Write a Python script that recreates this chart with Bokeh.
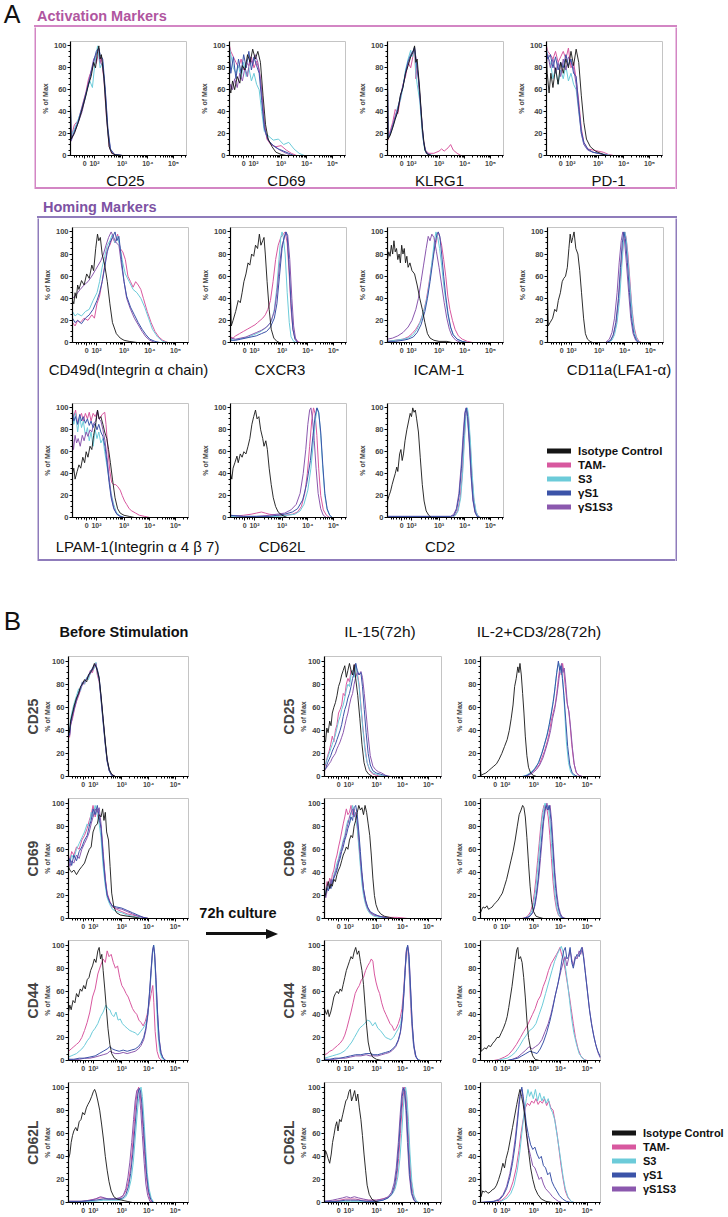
import math
from bokeh.plotting import figure
from bokeh.models import FixedTicker, Div, Spacer, Title, Legend, LegendItem, Range1d
from bokeh.layouts import row, column
from bokeh.embed import file_html
from bokeh.resources import INLINE

SERIES = ["Isotype Control", "TAM-", "S3", "γS1", "γS1S3"]
COLORS = ["#151515", "#d8589f", "#6ccbd9", "#3b53a8", "#8b58ae"]
X_TICKS = [1.55, 1.93, 3.0, 4.0, 5.0]
X_TICK_LABELS = ["0", "10²", "10³", "10⁴", "10⁵"]
Y_TICKS = [0, 20, 40, 60, 80, 100]

# ---------------- Panel A : activation markers ----------------
A_CD25 = {
 "Isotype Control": [(1.0,48),(1.02,15),(1.15,20),(1.3,30),(1.45,42),(1.6,55),(1.7,65),(1.8,72),(1.9,85),(1.97,80),(2.05,95),(2.1,100),(2.15,88),(2.2,92),(2.3,70),(2.4,35),(2.5,8),(2.6,2),(2.75,0.5),(3.0,0),(5.5,0)],
 "TAM-": [(1.0,30),(1.02,16),(1.15,28),(1.3,32),(1.45,45),(1.6,58),(1.7,70),(1.85,80),(1.95,90),(2.0,84),(2.1,95),(2.15,85),(2.2,90),(2.3,68),(2.4,33),(2.5,8),(2.6,2),(2.8,0.5),(3.0,0),(5.5,0)],
 "S3": [(1.0,40),(1.02,18),(1.15,24),(1.3,33),(1.45,43),(1.55,50),(1.65,60),(1.75,68),(1.85,62),(1.95,85),(2.05,100),(2.1,90),(2.15,80),(2.25,85),(2.35,55),(2.45,20),(2.55,5),(2.7,1),(3.0,0),(5.5,0)],
 "γS1": [(1.0,45),(1.02,14),(1.15,22),(1.3,31),(1.45,44),(1.6,57),(1.75,70),(1.9,86),(2.0,95),(2.1,98),(2.15,92),(2.25,88),(2.35,60),(2.45,25),(2.55,6),(2.7,1),(3.0,0),(5.5,0)],
 "γS1S3": [(1.0,42),(1.02,13),(1.15,21),(1.3,30),(1.45,40),(1.6,56),(1.75,72),(1.9,88),(2.0,92),(2.1,97),(2.15,85),(2.25,82),(2.35,58),(2.45,22),(2.55,5),(2.7,1),(3.0,0),(5.5,0)],
}
A_CD69 = {
 "Isotype Control": [(1.0,62),(1.05,57),(1.12,68),(1.2,60),(1.3,72),(1.4,66),(1.5,82),(1.6,78),(1.7,92),(1.8,85),(1.9,97),(2.0,88),(2.1,95),(2.2,85),(2.3,55),(2.4,28),(2.5,15),(2.65,8),(2.8,3),(3.0,1),(3.2,0),(5.5,0)],
 "TAM-": [(1.0,100),(1.05,95),(1.15,90),(1.25,85),(1.35,80),(1.45,88),(1.55,78),(1.65,85),(1.75,82),(1.85,90),(1.95,80),(2.05,86),(2.15,78),(2.25,60),(2.35,30),(2.45,15),(2.6,10),(2.8,8),(3.0,9),(3.2,5),(3.4,2),(3.6,0),(5.5,0)],
 "S3": [(1.0,98),(1.05,92),(1.15,80),(1.25,75),(1.35,82),(1.45,70),(1.55,85),(1.65,72),(1.75,80),(1.85,68),(1.95,75),(2.05,65),(2.15,60),(2.25,40),(2.35,22),(2.5,18),(2.7,14),(2.9,15),(3.1,10),(3.3,12),(3.5,6),(3.7,2),(3.9,0),(5.5,0)],
 "γS1": [(1.0,95),(1.05,75),(1.15,90),(1.25,70),(1.35,88),(1.45,75),(1.55,92),(1.65,80),(1.75,95),(1.85,78),(1.95,90),(2.05,82),(2.15,75),(2.25,50),(2.35,25),(2.5,14),(2.7,9),(2.9,6),(3.1,4),(3.3,2),(3.5,0),(5.5,0)],
 "γS1S3": [(1.0,58),(1.05,65),(1.12,60),(1.2,70),(1.3,62),(1.4,75),(1.5,68),(1.6,80),(1.7,72),(1.8,90),(1.9,82),(2.0,92),(2.1,85),(2.2,70),(2.3,40),(2.4,20),(2.55,12),(2.75,8),(2.95,5),(3.2,2),(3.4,0),(5.5,0)],
}
A_KLRG1 = {
 "Isotype Control": [(1.0,70),(1.02,15),(1.1,18),(1.2,25),(1.3,33),(1.4,40),(1.5,55),(1.6,62),(1.7,75),(1.8,82),(1.9,90),(2.0,95),(2.05,100),(2.1,85),(2.15,88),(2.25,60),(2.35,25),(2.45,5),(2.55,1),(2.7,0),(5.5,0)],
 "TAM-": [(1.0,60),(1.02,14),(1.1,22),(1.2,30),(1.3,42),(1.4,38),(1.5,52),(1.6,65),(1.7,72),(1.8,85),(1.9,80),(2.0,92),(2.05,98),(2.1,70),(2.15,82),(2.25,55),(2.35,22),(2.45,5),(2.6,2),(2.8,2),(3.0,4),(3.1,6),(3.2,4),(3.35,7),(3.45,10),(3.55,5),(3.7,2),(3.85,0),(5.5,0)],
 "S3": [(1.0,65),(1.02,17),(1.1,20),(1.2,27),(1.3,35),(1.4,45),(1.5,50),(1.6,62),(1.7,78),(1.8,88),(1.9,96),(1.95,90),(2.05,97),(2.1,75),(2.15,65),(2.25,50),(2.35,20),(2.45,4),(2.6,1),(2.8,0),(5.5,0)],
 "γS1": [(1.0,72),(1.02,16),(1.1,19),(1.2,26),(1.3,34),(1.4,42),(1.5,54),(1.6,63),(1.7,76),(1.8,86),(1.9,92),(2.0,96),(2.05,99),(2.1,88),(2.2,70),(2.3,40),(2.4,12),(2.5,2),(2.7,0),(5.5,0)],
 "γS1S3": [(1.0,68),(1.02,15),(1.1,20),(1.2,28),(1.3,36),(1.4,43),(1.5,53),(1.6,64),(1.7,74),(1.8,84),(1.9,91),(2.0,94),(2.05,97),(2.1,90),(2.2,72),(2.3,42),(2.4,13),(2.5,3),(2.7,0),(5.5,0)],
}
A_PD1 = {
 "Isotype Control": [(1.0,90),(1.03,75),(1.1,57),(1.17,75),(1.25,62),(1.35,80),(1.45,65),(1.55,85),(1.65,75),(1.75,88),(1.85,80),(1.95,95),(2.05,82),(2.15,97),(2.25,85),(2.35,55),(2.45,30),(2.55,15),(2.7,8),(2.9,4),(3.1,2),(3.3,0),(5.5,0)],
 "TAM-": [(1.0,100),(1.05,95),(1.15,92),(1.25,88),(1.35,95),(1.45,85),(1.55,90),(1.65,95),(1.75,88),(1.85,98),(1.95,80),(2.05,85),(2.15,70),(2.25,50),(2.35,25),(2.45,12),(2.6,6),(2.8,5),(3.0,4),(3.2,3),(3.4,1),(3.6,0),(5.5,0)],
 "S3": [(1.0,98),(1.05,90),(1.15,85),(1.25,70),(1.35,80),(1.45,65),(1.55,78),(1.65,70),(1.75,82),(1.85,68),(1.95,75),(2.05,65),(2.15,60),(2.25,40),(2.35,20),(2.45,10),(2.6,5),(2.8,3),(3.0,2),(3.3,1),(3.5,0),(5.5,0)],
 "γS1": [(1.0,95),(1.05,88),(1.15,92),(1.25,80),(1.35,90),(1.45,78),(1.55,85),(1.65,80),(1.75,92),(1.85,82),(1.95,88),(2.05,75),(2.15,72),(2.25,45),(2.35,22),(2.45,12),(2.6,6),(2.8,3),(3.0,2),(3.2,1),(3.4,0),(5.5,0)],
 "γS1S3": [(1.0,85),(1.05,92),(1.15,80),(1.25,88),(1.35,75),(1.45,85),(1.55,72),(1.65,88),(1.75,78),(1.85,90),(1.95,85),(2.05,80),(2.15,65),(2.25,42),(2.35,20),(2.45,10),(2.6,5),(2.8,3),(3.0,2),(3.2,1),(3.4,0),(5.5,0)],
}

# ---------------- Panel A : homing markers ----------------
A_CD49d = {
 "Isotype Control": [(1.0,38),(1.05,35),(1.1,45),(1.15,40),(1.2,52),(1.25,48),(1.35,56),(1.45,52),(1.55,62),(1.65,58),(1.75,70),(1.82,65),(1.9,85),(1.97,98),(2.02,92),(2.08,95),(2.15,80),(2.25,70),(2.35,55),(2.45,35),(2.55,18),(2.7,8),(2.85,4),(3.0,2),(3.2,1),(3.5,0),(5.5,0)],
 "TAM-": [(1.0,18),(1.1,15),(1.2,20),(1.3,18),(1.45,22),(1.6,20),(1.75,25),(1.85,22),(1.95,35),(2.05,42),(2.15,55),(2.25,70),(2.35,85),(2.45,88),(2.55,95),(2.65,90),(2.75,98),(2.85,85),(2.95,82),(3.05,75),(3.15,60),(3.25,55),(3.35,50),(3.45,55),(3.55,52),(3.65,48),(3.75,40),(3.9,28),(4.05,18),(4.2,10),(4.35,5),(4.5,2),(4.7,0),(5.5,0)],
 "S3": [(1.0,28),(1.1,24),(1.2,26),(1.35,24),(1.5,28),(1.65,30),(1.8,38),(1.95,45),(2.05,55),(2.15,68),(2.25,78),(2.35,88),(2.45,92),(2.55,98),(2.65,90),(2.75,96),(2.85,85),(2.95,72),(3.05,62),(3.2,55),(3.35,48),(3.5,45),(3.65,40),(3.8,32),(3.95,22),(4.1,12),(4.3,5),(4.5,1),(4.7,0),(5.5,0)],
 "γS1": [(1.0,22),(1.1,18),(1.2,20),(1.35,17),(1.5,22),(1.65,25),(1.8,30),(1.95,38),(2.05,45),(2.15,55),(2.25,68),(2.35,82),(2.45,90),(2.55,95),(2.65,100),(2.72,92),(2.8,96),(2.9,75),(3.0,55),(3.1,42),(3.25,32),(3.4,25),(3.55,18),(3.7,12),(3.85,7),(4.0,3),(4.2,1),(4.4,0),(5.5,0)],
 "γS1S3": [(1.0,40),(1.1,42),(1.2,45),(1.3,48),(1.45,52),(1.6,55),(1.75,60),(1.9,66),(2.0,70),(2.1,74),(2.2,80),(2.3,88),(2.4,95),(2.5,100),(2.6,95),(2.7,90),(2.8,88),(2.9,70),(3.0,55),(3.1,40),(3.25,30),(3.4,22),(3.55,16),(3.7,10),(3.85,5),(4.0,2),(4.2,0),(5.5,0)],
}
A_CXCR3 = {
 "Isotype Control": [(1.0,40),(1.03,15),(1.1,20),(1.2,28),(1.3,38),(1.38,36),(1.45,45),(1.52,55),(1.6,62),(1.68,72),(1.75,70),(1.82,80),(1.9,78),(1.97,88),(2.05,85),(2.12,98),(2.18,88),(2.25,92),(2.3,95),(2.35,80),(2.42,55),(2.5,30),(2.58,12),(2.68,4),(2.8,1),(2.9,0),(5.5,0)],
 "TAM-": [(1.0,5),(1.1,4),(1.2,6),(1.35,8),(1.5,10),(1.65,12),(1.8,14),(1.95,16),(2.05,18),(2.15,20),(2.25,22),(2.35,25),(2.45,30),(2.55,38),(2.65,55),(2.75,75),(2.85,88),(2.95,95),(3.05,98),(3.12,100),(3.2,90),(3.28,60),(3.35,30),(3.42,12),(3.5,4),(3.6,1),(3.7,0),(5.5,0)],
 "S3": [(1.0,3),(1.1,2),(1.3,3),(1.5,4),(1.7,5),(1.9,7),(2.1,9),(2.3,12),(2.45,15),(2.6,20),(2.7,30),(2.8,50),(2.88,75),(2.95,95),(3.0,100),(3.05,95),(3.12,80),(3.2,45),(3.28,18),(3.35,5),(3.45,1),(3.55,0),(5.5,0)],
 "γS1": [(1.0,2),(1.2,2),(1.4,3),(1.6,4),(1.8,5),(2.0,6),(2.2,8),(2.4,10),(2.55,14),(2.7,22),(2.8,35),(2.9,60),(3.0,85),(3.08,95),(3.15,100),(3.2,96),(3.27,70),(3.35,35),(3.42,12),(3.5,3),(3.6,0),(5.5,0)],
 "γS1S3": [(1.0,4),(1.2,3),(1.4,4),(1.6,5),(1.8,7),(2.0,9),(2.2,11),(2.4,14),(2.55,18),(2.7,28),(2.8,45),(2.9,70),(3.0,88),(3.08,94),(3.15,100),(3.22,97),(3.3,75),(3.38,40),(3.45,15),(3.52,4),(3.62,0),(5.5,0)],
}
A_ICAM1 = {
 "Isotype Control": [(1.0,75),(1.05,82),(1.1,78),(1.15,88),(1.2,80),(1.25,92),(1.3,82),(1.35,85),(1.4,75),(1.45,80),(1.5,72),(1.55,88),(1.6,80),(1.65,85),(1.7,72),(1.75,78),(1.8,68),(1.87,72),(1.95,65),(2.05,62),(2.15,52),(2.25,40),(2.35,30),(2.45,18),(2.55,8),(2.65,4),(2.8,2),(3.0,1),(3.3,1),(3.5,0),(5.5,0)],
 "TAM-": [(1.0,1),(1.3,2),(1.6,3),(1.8,5),(1.95,8),(2.1,12),(2.25,18),(2.4,28),(2.5,38),(2.6,52),(2.7,68),(2.8,82),(2.9,92),(2.97,100),(3.03,95),(3.1,88),(3.18,75),(3.26,60),(3.34,42),(3.42,30),(3.52,20),(3.62,12),(3.75,6),(3.9,3),(4.1,1),(4.3,0),(5.5,0)],
 "S3": [(1.0,1),(1.3,2),(1.6,3),(1.8,4),(2.0,7),(2.15,12),(2.3,20),(2.45,32),(2.55,42),(2.65,58),(2.75,78),(2.82,92),(2.88,100),(2.95,95),(3.02,85),(3.1,70),(3.18,52),(3.26,38),(3.35,24),(3.45,13),(3.55,7),(3.7,3),(3.9,1),(4.1,0),(5.5,0)],
 "γS1": [(1.0,1),(1.3,1),(1.6,2),(1.8,3),(2.0,5),(2.15,9),(2.3,16),(2.45,28),(2.55,40),(2.65,55),(2.75,72),(2.85,90),(2.92,98),(2.97,100),(3.03,96),(3.1,80),(3.18,60),(3.26,42),(3.35,26),(3.45,14),(3.55,7),(3.7,3),(3.9,1),(4.1,0),(5.5,0)],
 "γS1S3": [(1.0,3),(1.2,4),(1.4,6),(1.6,9),(1.8,14),(1.95,20),(2.1,30),(2.2,40),(2.3,55),(2.4,70),(2.5,85),(2.58,96),(2.65,92),(2.72,98),(2.8,95),(2.9,82),(3.0,68),(3.1,52),(3.2,36),(3.3,22),(3.4,12),(3.5,6),(3.65,2),(3.85,0),(5.5,0)],
}
A_CD11a = {
 "Isotype Control": [(1.0,40),(1.03,15),(1.1,18),(1.2,22),(1.28,30),(1.35,28),(1.42,38),(1.5,45),(1.57,55),(1.63,58),(1.7,60),(1.77,68),(1.83,85),(1.88,98),(1.93,90),(1.98,95),(2.03,100),(2.1,85),(2.18,80),(2.25,65),(2.32,45),(2.4,22),(2.47,8),(2.55,3),(2.65,1),(2.75,0),(5.5,0)],
 "TAM-": [(1.0,0),(3.3,0),(3.45,2),(3.55,6),(3.65,15),(3.75,35),(3.83,60),(3.9,82),(3.96,95),(4.0,100),(4.05,95),(4.12,80),(4.2,55),(4.28,30),(4.36,14),(4.45,5),(4.55,1),(4.65,0),(5.5,0)],
 "S3": [(1.0,0),(3.35,0),(3.5,2),(3.6,7),(3.7,18),(3.8,40),(3.88,68),(3.95,90),(4.0,100),(4.06,92),(4.13,72),(4.22,45),(4.3,22),(4.38,9),(4.48,2),(4.6,0),(5.5,0)],
 "γS1": [(1.0,0),(3.3,0),(3.45,2),(3.55,7),(3.65,18),(3.75,40),(3.83,68),(3.9,90),(3.96,100),(4.02,94),(4.1,72),(4.18,45),(4.26,22),(4.35,8),(4.45,2),(4.55,0),(5.5,0)],
 "γS1S3": [(1.0,0),(3.25,0),(3.4,3),(3.5,9),(3.6,22),(3.7,45),(3.78,72),(3.86,92),(3.92,100),(3.98,94),(4.06,72),(4.15,45),(4.23,22),(4.32,8),(4.42,2),(4.52,0),(5.5,0)],
}
A_LPAM1 = {
 "Isotype Control": [(1.0,40),(1.05,45),(1.1,35),(1.18,42),(1.25,48),(1.32,45),(1.4,55),(1.47,50),(1.53,60),(1.6,55),(1.68,65),(1.75,62),(1.82,75),(1.9,85),(1.97,98),(2.03,90),(2.1,92),(2.18,85),(2.25,78),(2.33,72),(2.4,62),(2.47,50),(2.55,35),(2.65,18),(2.75,8),(2.85,4),(3.0,2),(3.2,1),(3.4,0),(5.5,0)],
 "TAM-": [(1.0,95),(1.05,92),(1.12,98),(1.2,85),(1.28,92),(1.35,95),(1.42,88),(1.5,95),(1.58,90),(1.65,96),(1.72,88),(1.8,95),(1.88,92),(1.95,96),(2.05,90),(2.15,94),(2.25,96),(2.3,85),(2.38,60),(2.45,42),(2.52,32),(2.6,30),(2.68,30),(2.76,28),(2.85,25),(2.93,20),(3.02,15),(3.1,12),(3.2,8),(3.3,6),(3.45,4),(3.6,2),(3.8,1),(4.0,0),(5.5,0)],
 "S3": [(1.0,98),(1.05,85),(1.12,95),(1.2,78),(1.28,92),(1.35,82),(1.42,88),(1.5,75),(1.58,82),(1.65,70),(1.72,78),(1.8,65),(1.88,80),(1.95,72),(2.02,78),(2.1,68),(2.18,72),(2.25,60),(2.33,48),(2.42,35),(2.5,22),(2.6,12),(2.7,5),(2.82,2),(3.0,0),(5.5,0)],
 "γS1": [(1.0,96),(1.05,88),(1.12,92),(1.2,85),(1.28,94),(1.35,88),(1.42,92),(1.5,86),(1.58,90),(1.65,84),(1.72,88),(1.8,82),(1.88,86),(1.95,80),(2.02,85),(2.1,78),(2.18,74),(2.26,65),(2.34,50),(2.42,32),(2.5,18),(2.6,8),(2.72,3),(2.85,1),(3.0,0),(5.5,0)],
 "γS1S3": [(1.0,72),(1.04,62),(1.1,75),(1.16,68),(1.22,72),(1.3,65),(1.38,75),(1.45,70),(1.53,78),(1.6,74),(1.68,80),(1.75,78),(1.82,86),(1.9,88),(1.97,98),(2.03,90),(2.1,88),(2.18,80),(2.26,70),(2.34,55),(2.42,36),(2.5,20),(2.6,9),(2.72,3),(2.85,1),(3.0,0),(5.5,0)],
}
A_CD62L = {
 "Isotype Control": [(1.0,40),(1.05,35),(1.1,45),(1.17,50),(1.25,56),(1.3,50),(1.38,58),(1.45,55),(1.52,60),(1.6,58),(1.68,65),(1.75,72),(1.83,85),(1.9,92),(1.97,98),(2.03,90),(2.1,92),(2.17,80),(2.25,72),(2.3,65),(2.37,70),(2.43,62),(2.5,45),(2.58,30),(2.66,18),(2.75,10),(2.85,5),(3.0,2),(3.2,0),(5.5,0)],
 "TAM-": [(1.0,1),(1.5,2),(1.8,3),(2.0,4),(2.2,5),(2.35,4),(2.5,3),(2.8,2),(3.1,2),(3.4,3),(3.6,5),(3.75,10),(3.88,22),(3.98,40),(4.07,65),(4.15,88),(4.22,100),(4.28,95),(4.35,75),(4.42,45),(4.5,20),(4.6,7),(4.72,2),(4.85,0),(5.5,0)],
 "S3": [(1.0,1),(1.5,1),(2.0,1),(2.5,1),(2.9,1),(3.2,2),(3.5,3),(3.7,6),(3.85,12),(4.0,25),(4.12,45),(4.22,70),(4.3,90),(4.37,100),(4.43,95),(4.5,75),(4.58,45),(4.66,20),(4.75,7),(4.85,2),(4.95,0),(5.5,0)],
 "γS1": [(1.0,2),(1.5,1),(2.0,1),(2.5,1),(2.8,2),(3.1,3),(3.4,5),(3.6,8),(3.8,16),(3.95,30),(4.1,52),(4.2,75),(4.28,92),(4.35,100),(4.42,96),(4.5,78),(4.58,48),(4.66,22),(4.75,8),(4.85,2),(4.95,0),(5.5,0)],
 "γS1S3": [(1.0,2),(1.5,1),(2.0,1),(2.5,2),(2.8,3),(3.1,4),(3.35,7),(3.55,12),(3.7,22),(3.82,40),(3.92,62),(4.0,85),(4.07,98),(4.12,100),(4.18,90),(4.25,70),(4.32,45),(4.4,22),(4.5,8),(4.6,2),(4.72,0),(5.5,0)],
}
A_CD2 = {
 "Isotype Control": [(1.0,15),(1.06,20),(1.12,24),(1.18,30),(1.25,36),(1.3,40),(1.36,46),(1.4,42),(1.47,58),(1.52,62),(1.57,52),(1.62,58),(1.68,70),(1.75,80),(1.82,88),(1.88,95),(1.93,92),(1.98,100),(2.03,96),(2.08,98),(2.13,90),(2.2,78),(2.27,55),(2.35,30),(2.42,15),(2.5,6),(2.6,2),(2.7,0),(5.5,0)],
 "TAM-": [(1.0,0),(3.5,0),(3.62,2),(3.72,6),(3.82,18),(3.9,40),(3.97,70),(4.03,92),(4.08,100),(4.13,92),(4.2,70),(4.27,40),(4.34,18),(4.42,6),(4.5,2),(4.6,0),(5.5,0)],
 "S3": [(1.0,0),(3.52,0),(3.64,2),(3.74,6),(3.84,18),(3.92,42),(3.99,72),(4.05,94),(4.1,100),(4.15,92),(4.22,68),(4.29,38),(4.36,16),(4.44,5),(4.52,1),(4.62,0),(5.5,0)],
 "γS1": [(1.0,1),(3.45,1),(3.58,2),(3.68,7),(3.78,20),(3.87,45),(3.95,75),(4.01,95),(4.06,100),(4.11,92),(4.18,68),(4.25,38),(4.32,16),(4.4,5),(4.48,1),(4.58,0),(5.5,0)],
 "γS1S3": [(1.0,1),(3.45,1),(3.57,3),(3.67,8),(3.77,22),(3.86,48),(3.94,78),(4.0,96),(4.05,100),(4.1,92),(4.17,68),(4.24,38),(4.31,16),(4.39,5),(4.47,1),(4.57,0),(5.5,0)],
}

# ---------------- Panel B : before stimulation ----------------
B0_CD25 = {
 "Isotype Control": [(1.0,40),(1.03,38),(1.08,48),(1.15,55),(1.22,62),(1.3,68),(1.38,72),(1.45,78),(1.52,80),(1.6,84),(1.68,82),(1.75,88),(1.82,90),(1.9,93),(1.97,98),(2.03,95),(2.08,92),(2.15,85),(2.22,70),(2.3,50),(2.38,30),(2.45,15),(2.53,6),(2.62,2),(2.75,0),(5.5,0)],
 "TAM-": [(1.0,36),(1.04,34),(1.08,45),(1.15,50),(1.22,58),(1.3,65),(1.38,70),(1.45,75),(1.52,82),(1.6,80),(1.68,85),(1.75,86),(1.82,92),(1.9,90),(1.97,96),(2.03,97),(2.08,88),(2.15,82),(2.22,68),(2.3,48),(2.38,28),(2.45,14),(2.53,5),(2.62,2),(2.75,0),(5.5,0)],
 "S3": [(1.0,38),(1.04,40),(1.08,50),(1.15,58),(1.22,64),(1.3,70),(1.38,76),(1.45,74),(1.52,82),(1.6,80),(1.68,86),(1.75,84),(1.82,90),(1.9,92),(1.97,94),(2.03,99),(2.08,90),(2.15,84),(2.22,66),(2.3,46),(2.38,27),(2.45,13),(2.53,5),(2.62,1),(2.75,0),(5.5,0)],
 "γS1": [(1.0,39),(1.04,36),(1.08,46),(1.15,54),(1.22,60),(1.3,67),(1.38,73),(1.45,77),(1.52,81),(1.6,83),(1.68,84),(1.75,88),(1.82,91),(1.9,94),(1.97,97),(2.03,96),(2.08,93),(2.15,86),(2.22,69),(2.3,49),(2.38,29),(2.45,14),(2.53,5),(2.62,1),(2.75,0),(5.5,0)],
 "γS1S3": [(1.0,37),(1.04,35),(1.08,44),(1.15,52),(1.22,59),(1.3,66),(1.38,71),(1.45,76),(1.52,79),(1.6,82),(1.68,85),(1.75,87),(1.82,89),(1.9,92),(1.97,96),(2.03,98),(2.08,91),(2.15,84),(2.22,67),(2.3,47),(2.38,28),(2.45,13),(2.53,5),(2.62,1),(2.75,0),(5.5,0)],
}
B0_CD69 = {
 "Isotype Control": [(1.0,45),(1.05,42),(1.12,40),(1.2,42),(1.3,38),(1.4,42),(1.5,45),(1.6,48),(1.7,55),(1.78,60),(1.85,62),(1.92,75),(2.0,80),(2.08,82),(2.15,90),(2.22,88),(2.28,95),(2.33,85),(2.38,92),(2.43,75),(2.5,68),(2.56,45),(2.62,22),(2.7,10),(2.8,5),(2.95,3),(3.2,2),(3.5,1),(3.7,0),(5.5,0)],
 "TAM-": [(1.0,55),(1.05,50),(1.12,58),(1.2,55),(1.3,62),(1.4,60),(1.5,68),(1.6,72),(1.7,78),(1.78,85),(1.85,90),(1.92,98),(2.0,88),(2.08,95),(2.15,85),(2.22,80),(2.3,55),(2.38,35),(2.45,22),(2.55,15),(2.65,10),(2.8,8),(3.0,6),(3.2,4),(3.4,3),(3.6,2),(3.8,1),(4.0,0),(5.5,0)],
 "S3": [(1.0,50),(1.05,48),(1.12,55),(1.2,52),(1.3,60),(1.4,65),(1.5,70),(1.6,75),(1.7,82),(1.78,80),(1.85,92),(1.92,88),(2.0,98),(2.08,90),(2.15,82),(2.22,70),(2.3,45),(2.38,28),(2.45,18),(2.55,12),(2.65,8),(2.8,6),(3.0,5),(3.2,3),(3.4,2),(3.6,1),(3.8,0),(5.5,0)],
 "γS1": [(1.0,48),(1.05,52),(1.12,46),(1.2,55),(1.3,50),(1.4,58),(1.5,62),(1.6,68),(1.7,72),(1.78,80),(1.85,85),(1.92,95),(2.0,90),(2.08,98),(2.15,88),(2.22,78),(2.3,52),(2.38,32),(2.45,20),(2.55,14),(2.65,11),(2.8,10),(3.0,9),(3.2,7),(3.4,5),(3.6,3),(3.8,1),(4.0,0),(5.5,0)],
 "γS1S3": [(1.0,52),(1.05,45),(1.12,50),(1.2,48),(1.3,55),(1.4,52),(1.5,60),(1.6,65),(1.7,70),(1.78,75),(1.85,82),(1.92,88),(2.0,95),(2.08,92),(2.15,96),(2.22,82),(2.3,58),(2.38,34),(2.45,21),(2.55,14),(2.65,10),(2.8,9),(3.0,8),(3.2,6),(3.4,4),(3.6,2),(3.8,1),(4.0,0),(5.5,0)],
}
B0_CD44 = {
 "Isotype Control": [(1.0,42),(1.05,48),(1.1,44),(1.17,52),(1.24,50),(1.3,58),(1.37,55),(1.44,62),(1.5,60),(1.57,65),(1.63,62),(1.7,70),(1.77,72),(1.83,78),(1.9,82),(1.97,88),(2.03,85),(2.1,95),(2.15,98),(2.2,88),(2.25,92),(2.3,78),(2.36,62),(2.42,45),(2.48,28),(2.55,14),(2.62,6),(2.72,2),(2.85,0),(5.5,0)],
 "TAM-": [(1.0,8),(1.1,10),(1.2,12),(1.3,14),(1.4,16),(1.5,20),(1.6,26),(1.7,33),(1.8,42),(1.9,55),(2.0,62),(2.1,75),(2.2,82),(2.3,88),(2.38,85),(2.45,95),(2.52,90),(2.6,92),(2.68,85),(2.76,80),(2.84,82),(2.92,72),(3.0,65),(3.08,62),(3.16,58),(3.24,55),(3.32,50),(3.4,45),(3.48,42),(3.56,40),(3.64,35),(3.72,33),(3.8,30),(3.88,34),(3.95,40),(4.02,48),(4.1,58),(4.16,65),(4.2,50),(4.25,25),(4.32,8),(4.4,2),(4.5,0),(5.5,0)],
 "S3": [(1.0,3),(1.1,4),(1.2,5),(1.3,6),(1.4,8),(1.5,10),(1.6,13),(1.7,17),(1.8,20),(1.9,25),(2.0,28),(2.1,32),(2.2,38),(2.3,42),(2.4,48),(2.48,45),(2.55,44),(2.62,40),(2.7,38),(2.78,42),(2.86,35),(2.94,36),(3.02,32),(3.1,30),(3.2,28),(3.3,26),(3.4,25),(3.5,24),(3.6,22),(3.7,25),(3.8,28),(3.9,32),(3.98,40),(4.05,58),(4.11,80),(4.16,95),(4.2,100),(4.24,85),(4.3,50),(4.36,22),(4.42,8),(4.5,2),(4.6,0),(5.5,0)],
 "γS1": [(1.0,1),(1.2,1),(1.4,2),(1.6,2),(1.8,3),(2.0,4),(2.15,6),(2.3,8),(2.45,10),(2.55,12),(2.65,10),(2.75,9),(2.9,8),(3.05,9),(3.2,8),(3.35,9),(3.5,10),(3.62,12),(3.72,15),(3.82,20),(3.9,28),(3.97,40),(4.04,60),(4.1,80),(4.15,95),(4.19,100),(4.23,92),(4.28,70),(4.34,40),(4.4,18),(4.47,6),(4.55,2),(4.65,0),(5.5,0)],
 "γS1S3": [(1.0,1),(1.2,1),(1.4,1),(1.6,2),(1.8,2),(2.0,3),(2.15,4),(2.3,5),(2.45,6),(2.55,8),(2.65,7),(2.75,6),(2.9,6),(3.05,7),(3.2,6),(3.35,7),(3.5,8),(3.62,10),(3.72,13),(3.82,18),(3.9,26),(3.97,38),(4.04,58),(4.1,78),(4.15,94),(4.19,99),(4.23,93),(4.28,72),(4.34,42),(4.4,19),(4.47,7),(4.55,2),(4.65,0),(5.5,0)],
}
B0_CD62L = {
 "Isotype Control": [(1.0,38),(1.05,42),(1.1,52),(1.15,58),(1.2,62),(1.27,65),(1.33,62),(1.4,70),(1.47,72),(1.53,78),(1.6,76),(1.67,82),(1.73,85),(1.8,88),(1.87,92),(1.93,96),(1.98,98),(2.03,95),(2.1,88),(2.17,80),(2.24,68),(2.31,55),(2.38,40),(2.45,28),(2.52,18),(2.6,10),(2.7,5),(2.82,3),(3.0,2),(3.2,1),(3.4,0),(5.5,0)],
 "TAM-": [(1.0,1),(1.5,1),(1.8,2),(2.0,3),(2.15,4),(2.3,4),(2.45,3),(2.6,3),(2.8,3),(2.95,4),(3.05,6),(3.15,10),(3.25,18),(3.33,30),(3.4,48),(3.47,70),(3.53,88),(3.58,96),(3.63,100),(3.68,96),(3.74,82),(3.8,62),(3.86,40),(3.92,22),(3.98,10),(4.05,3),(4.15,0),(5.5,0)],
 "S3": [(1.0,0),(1.5,1),(2.0,1),(2.3,2),(2.6,2),(2.9,2),(3.05,3),(3.15,5),(3.25,10),(3.35,20),(3.43,35),(3.5,55),(3.57,75),(3.63,90),(3.68,98),(3.72,100),(3.77,92),(3.83,72),(3.89,48),(3.95,26),(4.02,12),(4.1,4),(4.2,0),(5.5,0)],
 "γS1": [(1.0,1),(1.5,1),(2.0,2),(2.3,3),(2.6,3),(2.9,3),(3.05,4),(3.15,7),(3.25,14),(3.33,25),(3.41,42),(3.48,62),(3.55,82),(3.6,94),(3.65,99),(3.7,97),(3.75,86),(3.81,66),(3.87,44),(3.93,24),(4.0,10),(4.08,3),(4.18,0),(5.5,0)],
 "γS1S3": [(1.0,1),(1.5,1),(1.8,2),(2.0,3),(2.2,5),(2.35,4),(2.5,3),(2.7,3),(2.9,4),(3.05,6),(3.15,12),(3.23,22),(3.3,35),(3.37,52),(3.44,72),(3.5,88),(3.56,97),(3.6,98),(3.65,95),(3.71,80),(3.77,58),(3.84,34),(3.9,16),(3.97,6),(4.05,1),(4.15,0),(5.5,0)],
}

# ---------------- Panel B : IL-15 (72h) ----------------
B1_CD25 = {
 "Isotype Control": [(1.0,32),(1.04,30),(1.09,42),(1.14,38),(1.2,48),(1.25,44),(1.3,55),(1.36,60),(1.42,64),(1.48,70),(1.54,78),(1.6,82),(1.66,88),(1.72,92),(1.78,96),(1.84,86),(1.9,92),(1.96,98),(2.02,92),(2.08,88),(2.14,97),(2.2,85),(2.28,70),(2.36,50),(2.44,28),(2.52,12),(2.6,5),(2.7,2),(2.85,0),(5.5,0)],
 "TAM-": [(1.0,8),(1.06,12),(1.12,18),(1.18,22),(1.24,28),(1.3,35),(1.36,30),(1.42,40),(1.48,45),(1.54,55),(1.6,58),(1.66,62),(1.72,72),(1.78,70),(1.84,80),(1.9,85),(1.96,82),(2.02,92),(2.08,88),(2.14,96),(2.2,98),(2.26,90),(2.33,80),(2.4,62),(2.48,42),(2.56,25),(2.64,12),(2.74,5),(2.86,2),(3.0,1),(3.2,0),(5.5,0)],
 "S3": [(1.0,10),(1.06,12),(1.12,16),(1.18,20),(1.24,24),(1.3,28),(1.36,32),(1.42,36),(1.48,42),(1.54,48),(1.6,52),(1.66,58),(1.72,62),(1.78,68),(1.84,75),(1.9,80),(1.96,78),(2.02,88),(2.08,92),(2.14,86),(2.2,98),(2.26,88),(2.33,78),(2.4,60),(2.48,40),(2.56,22),(2.64,12),(2.74,6),(2.86,3),(3.0,2),(3.15,1),(3.3,0),(5.5,0)],
 "γS1": [(1.0,6),(1.06,8),(1.12,12),(1.18,15),(1.24,18),(1.3,22),(1.36,25),(1.42,28),(1.48,32),(1.54,36),(1.6,40),(1.66,45),(1.72,52),(1.78,58),(1.84,62),(1.9,68),(1.96,72),(2.02,78),(2.08,85),(2.14,90),(2.2,98),(2.26,92),(2.33,88),(2.4,90),(2.46,78),(2.53,58),(2.6,38),(2.68,20),(2.76,10),(2.86,5),(3.0,3),(3.15,2),(3.3,1),(3.45,0),(5.5,0)],
 "γS1S3": [(1.0,5),(1.06,7),(1.12,9),(1.18,11),(1.24,13),(1.3,16),(1.36,18),(1.42,20),(1.48,24),(1.54,27),(1.6,30),(1.66,34),(1.72,38),(1.78,44),(1.84,50),(1.9,55),(1.96,62),(2.02,68),(2.08,72),(2.14,80),(2.2,86),(2.26,90),(2.33,88),(2.4,91),(2.46,86),(2.53,72),(2.6,55),(2.68,35),(2.76,18),(2.86,9),(2.96,6),(3.08,4),(3.2,3),(3.35,1),(3.55,0),(5.5,0)],
}
B1_CD69 = {
 "Isotype Control": [(1.0,18),(1.05,22),(1.1,28),(1.15,32),(1.2,26),(1.25,30),(1.3,28),(1.36,34),(1.42,32),(1.48,38),(1.54,42),(1.6,45),(1.66,50),(1.72,55),(1.78,58),(1.84,62),(1.9,60),(1.96,68),(2.02,72),(2.08,70),(2.14,80),(2.2,85),(2.26,92),(2.32,98),(2.38,94),(2.44,96),(2.5,90),(2.56,98),(2.62,92),(2.68,82),(2.74,72),(2.8,55),(2.86,35),(2.92,20),(2.98,12),(3.06,7),(3.16,4),(3.3,2),(3.5,1),(3.7,0),(5.5,0)],
 "TAM-": [(1.0,22),(1.05,25),(1.1,32),(1.15,28),(1.2,35),(1.25,30),(1.3,38),(1.36,42),(1.42,50),(1.48,55),(1.54,62),(1.6,68),(1.66,75),(1.72,82),(1.78,88),(1.84,95),(1.9,90),(1.96,92),(2.02,98),(2.08,90),(2.14,95),(2.2,85),(2.26,80),(2.32,65),(2.38,50),(2.44,38),(2.5,25),(2.58,15),(2.66,9),(2.76,5),(2.9,3),(3.1,2),(3.4,1),(3.8,1),(4.2,0),(5.5,0)],
 "S3": [(1.0,20),(1.05,24),(1.1,28),(1.15,25),(1.2,30),(1.25,33),(1.3,30),(1.36,38),(1.42,42),(1.48,48),(1.54,52),(1.6,58),(1.66,62),(1.72,68),(1.78,72),(1.84,80),(1.9,85),(1.96,82),(2.02,90),(2.08,98),(2.14,92),(2.2,88),(2.26,78),(2.32,62),(2.38,45),(2.44,30),(2.5,20),(2.58,12),(2.66,7),(2.76,4),(2.9,2),(3.1,1),(3.3,0),(5.5,0)],
 "γS1": [(1.0,18),(1.05,22),(1.1,26),(1.15,24),(1.2,28),(1.25,26),(1.3,32),(1.36,35),(1.42,38),(1.48,42),(1.54,48),(1.6,52),(1.66,58),(1.72,62),(1.78,68),(1.84,72),(1.9,78),(1.96,82),(2.02,88),(2.08,85),(2.14,96),(2.2,98),(2.26,90),(2.32,75),(2.38,58),(2.44,40),(2.5,26),(2.58,16),(2.66,10),(2.76,6),(2.9,4),(3.1,2),(3.3,1),(3.5,0),(5.5,0)],
 "γS1S3": [(1.0,20),(1.05,18),(1.1,24),(1.15,30),(1.2,26),(1.25,34),(1.3,30),(1.36,36),(1.42,40),(1.48,44),(1.54,50),(1.6,55),(1.66,60),(1.72,66),(1.78,70),(1.84,76),(1.9,82),(1.96,88),(2.02,92),(2.08,95),(2.14,88),(2.2,92),(2.26,85),(2.32,70),(2.38,52),(2.44,36),(2.5,24),(2.58,14),(2.66,9),(2.76,5),(2.9,3),(3.1,2),(3.3,1),(3.5,0),(5.5,0)],
}
B1_CD44 = {
 "Isotype Control": [(1.0,45),(1.04,42),(1.08,40),(1.13,44),(1.18,38),(1.24,42),(1.3,48),(1.36,55),(1.42,58),(1.48,60),(1.54,58),(1.6,62),(1.66,60),(1.72,66),(1.78,72),(1.84,78),(1.9,82),(1.96,86),(2.02,90),(2.08,88),(2.14,94),(2.2,98),(2.26,92),(2.32,95),(2.38,86),(2.44,78),(2.5,66),(2.56,48),(2.62,30),(2.68,16),(2.75,8),(2.85,3),(3.0,1),(3.2,0),(5.5,0)],
 "TAM-": [(1.0,5),(1.1,6),(1.2,8),(1.3,9),(1.4,11),(1.5,13),(1.6,15),(1.7,18),(1.78,22),(1.86,28),(1.94,35),(2.02,42),(2.1,50),(2.18,58),(2.26,62),(2.34,65),(2.42,70),(2.5,72),(2.58,78),(2.66,82),(2.74,85),(2.8,88),(2.86,86),(2.92,75),(2.98,68),(3.05,62),(3.12,58),(3.2,50),(3.28,44),(3.36,40),(3.44,36),(3.52,32),(3.6,30),(3.68,26),(3.76,28),(3.84,32),(3.92,38),(3.98,45),(4.04,60),(4.1,80),(4.15,96),(4.2,98),(4.25,80),(4.32,45),(4.4,18),(4.48,5),(4.58,1),(4.7,0),(5.5,0)],
 "S3": [(1.0,2),(1.15,3),(1.3,4),(1.45,5),(1.6,6),(1.75,8),(1.85,10),(1.95,13),(2.05,16),(2.15,20),(2.25,24),(2.35,28),(2.45,30),(2.55,32),(2.65,35),(2.75,34),(2.85,30),(2.95,33),(3.05,28),(3.15,26),(3.25,23),(3.35,20),(3.45,19),(3.55,18),(3.65,20),(3.75,24),(3.85,28),(3.93,32),(4.0,42),(4.06,62),(4.12,85),(4.17,98),(4.22,96),(4.28,70),(4.35,38),(4.42,14),(4.5,4),(4.6,1),(4.7,0),(5.5,0)],
 "γS1": [(1.0,1),(1.2,1),(1.4,2),(1.6,2),(1.8,3),(2.0,4),(2.2,5),(2.4,5),(2.6,6),(2.75,6),(2.9,5),(3.05,5),(3.2,6),(3.35,7),(3.5,8),(3.62,10),(3.74,13),(3.84,18),(3.92,25),(3.99,38),(4.05,58),(4.1,78),(4.15,95),(4.2,100),(4.25,90),(4.31,62),(4.37,32),(4.44,12),(4.52,3),(4.62,0),(5.5,0)],
 "γS1S3": [(1.0,1),(1.2,1),(1.4,1),(1.6,2),(1.8,2),(2.0,3),(2.2,4),(2.4,4),(2.6,5),(2.75,4),(2.9,4),(3.05,4),(3.2,5),(3.35,6),(3.5,7),(3.62,9),(3.74,12),(3.84,17),(3.92,24),(3.99,36),(4.05,56),(4.1,76),(4.15,94),(4.2,99),(4.25,92),(4.31,64),(4.37,34),(4.44,13),(4.52,3),(4.62,0),(5.5,0)],
}
B1_CD62L = {
 "Isotype Control": [(1.0,35),(1.04,45),(1.09,42),(1.14,38),(1.2,34),(1.26,42),(1.31,52),(1.36,58),(1.42,66),(1.47,70),(1.52,62),(1.58,72),(1.64,70),(1.7,76),(1.76,82),(1.82,88),(1.88,90),(1.94,96),(1.99,98),(2.04,88),(2.1,92),(2.16,97),(2.22,88),(2.28,94),(2.34,82),(2.4,72),(2.46,58),(2.52,42),(2.58,28),(2.64,15),(2.72,7),(2.82,3),(2.95,1),(3.1,0),(5.5,0)],
 "TAM-": [(1.0,1),(1.3,1),(1.6,2),(1.8,3),(2.0,3),(2.2,3),(2.4,2),(2.6,2),(2.8,2),(3.0,2),(3.2,3),(3.4,4),(3.55,6),(3.67,10),(3.77,20),(3.85,38),(3.92,60),(3.98,80),(4.04,95),(4.08,100),(4.13,95),(4.19,75),(4.25,48),(4.32,22),(4.4,8),(4.5,2),(4.6,0),(5.5,0)],
 "S3": [(1.0,0),(1.5,1),(2.0,1),(2.5,1),(3.0,1),(3.25,2),(3.45,4),(3.6,7),(3.72,12),(3.82,22),(3.9,38),(3.97,60),(4.03,82),(4.08,96),(4.12,100),(4.17,92),(4.23,70),(4.29,42),(4.36,18),(4.44,6),(4.54,1),(4.64,0),(5.5,0)],
 "γS1": [(1.0,1),(1.5,1),(1.8,2),(2.0,2),(2.3,2),(2.6,1),(3.0,1),(3.25,2),(3.45,4),(3.6,8),(3.7,15),(3.78,28),(3.86,50),(3.93,74),(3.99,92),(4.04,99),(4.09,96),(4.15,80),(4.21,52),(4.28,24),(4.36,8),(4.45,2),(4.55,0),(5.5,0)],
 "γS1S3": [(1.0,1),(1.3,2),(1.5,3),(1.7,4),(1.85,5),(2.0,4),(2.15,5),(2.3,4),(2.5,3),(2.7,2),(3.0,2),(3.25,3),(3.45,5),(3.58,9),(3.68,17),(3.76,30),(3.84,52),(3.91,76),(3.97,94),(4.02,100),(4.07,97),(4.13,80),(4.19,52),(4.26,24),(4.34,8),(4.43,2),(4.53,0),(5.5,0)],
}

# ---------------- Panel B : IL-2 + CD3/28 (72h) ----------------
B2_CD25 = {
 "Isotype Control": [(1.0,5),(1.02,1),(1.1,2),(1.2,3),(1.3,5),(1.4,7),(1.5,9),(1.6,11),(1.7,15),(1.8,20),(1.9,26),(2.0,32),(2.08,40),(2.15,50),(2.22,62),(2.28,78),(2.34,85),(2.4,95),(2.44,90),(2.48,98),(2.53,88),(2.58,72),(2.63,55),(2.68,35),(2.74,18),(2.8,8),(2.88,3),(2.98,1),(3.1,0),(5.5,0)],
 "TAM-": [(1.0,0),(2.6,0),(2.75,1),(2.9,3),(3.05,6),(3.2,10),(3.3,16),(3.4,22),(3.5,30),(3.58,38),(3.65,48),(3.72,55),(3.8,62),(3.86,72),(3.92,85),(3.98,95),(4.03,88),(4.08,98),(4.13,90),(4.18,78),(4.24,65),(4.3,58),(4.36,45),(4.42,28),(4.5,12),(4.58,4),(4.68,1),(4.8,0),(5.5,0)],
 "S3": [(1.0,0),(2.55,0),(2.7,1),(2.85,3),(3.0,6),(3.15,11),(3.27,18),(3.37,25),(3.47,34),(3.55,42),(3.63,52),(3.7,62),(3.77,72),(3.83,85),(3.89,95),(3.94,98),(3.99,90),(4.04,96),(4.1,80),(4.16,55),(4.22,30),(4.3,12),(4.38,4),(4.48,1),(4.6,0),(5.5,0)],
 "γS1": [(1.0,0),(2.6,0),(2.75,1),(2.9,3),(3.05,7),(3.18,12),(3.3,20),(3.4,28),(3.5,36),(3.58,45),(3.66,55),(3.73,65),(3.8,78),(3.86,90),(3.92,100),(3.97,92),(4.02,96),(4.07,85),(4.13,70),(4.2,48),(4.27,26),(4.35,10),(4.44,3),(4.55,1),(4.65,0),(5.5,0)],
 "γS1S3": [(1.0,0),(2.65,0),(2.8,1),(2.95,3),(3.1,6),(3.22,10),(3.34,16),(3.45,24),(3.55,32),(3.63,40),(3.7,50),(3.78,58),(3.85,68),(3.92,80),(3.98,92),(4.04,98),(4.09,90),(4.14,94),(4.2,80),(4.26,62),(4.32,56),(4.38,42),(4.45,24),(4.52,10),(4.6,3),(4.7,1),(4.82,0),(5.5,0)],
}
B2_CD69 = {
 "Isotype Control": [(1.0,5),(1.05,8),(1.1,10),(1.17,9),(1.24,11),(1.3,8),(1.37,9),(1.44,10),(1.5,12),(1.58,14),(1.66,16),(1.74,19),(1.82,22),(1.9,28),(1.98,34),(2.06,42),(2.14,50),(2.22,58),(2.3,68),(2.38,80),(2.45,90),(2.52,94),(2.58,98),(2.63,96),(2.68,88),(2.74,70),(2.8,48),(2.86,28),(2.92,14),(2.99,6),(3.08,2),(3.2,1),(3.35,0),(5.5,0)],
 "TAM-": [(1.0,0),(2.55,0),(2.7,1),(2.8,3),(2.88,6),(2.95,12),(3.02,22),(3.08,35),(3.14,50),(3.2,65),(3.26,80),(3.32,92),(3.38,98),(3.43,94),(3.48,96),(3.54,88),(3.6,72),(3.66,52),(3.72,32),(3.78,18),(3.85,8),(3.92,3),(4.0,1),(4.1,0),(5.5,0)],
 "S3": [(1.0,0),(2.6,0),(2.75,1),(2.85,3),(2.93,7),(3.0,14),(3.07,25),(3.13,40),(3.19,55),(3.25,72),(3.31,86),(3.37,95),(3.42,100),(3.48,95),(3.54,98),(3.6,85),(3.66,65),(3.72,42),(3.78,24),(3.85,11),(3.92,4),(4.0,1),(4.1,0),(5.5,0)],
 "γS1": [(1.0,0),(2.6,0),(2.75,1),(2.85,2),(2.95,5),(3.02,10),(3.09,20),(3.16,34),(3.22,50),(3.28,66),(3.34,82),(3.4,93),(3.46,98),(3.52,94),(3.58,98),(3.64,86),(3.7,66),(3.76,44),(3.82,26),(3.89,12),(3.96,5),(4.04,1),(4.15,0),(5.5,0)],
 "γS1S3": [(1.0,0),(2.65,0),(2.8,1),(2.9,3),(2.98,6),(3.05,12),(3.12,22),(3.19,36),(3.25,52),(3.31,68),(3.37,84),(3.43,94),(3.49,100),(3.55,94),(3.61,98),(3.67,84),(3.73,62),(3.79,40),(3.86,22),(3.93,10),(4.0,4),(4.08,1),(4.2,0),(5.5,0)],
}
B2_CD44 = {
 "Isotype Control": [(1.0,70),(1.02,8),(1.08,9),(1.15,11),(1.22,10),(1.3,13),(1.38,12),(1.46,15),(1.54,17),(1.62,20),(1.7,20),(1.78,24),(1.86,28),(1.94,33),(2.0,38),(2.06,46),(2.12,55),(2.18,64),(2.24,75),(2.3,86),(2.36,96),(2.4,98),(2.44,88),(2.5,90),(2.56,85),(2.62,72),(2.68,55),(2.74,35),(2.8,20),(2.88,10),(2.96,4),(3.05,1),(3.2,0),(5.5,0)],
 "TAM-": [(1.0,0),(1.5,0),(1.7,1),(1.9,3),(2.05,5),(2.2,9),(2.35,14),(2.5,20),(2.62,25),(2.75,30),(2.85,35),(2.95,40),(3.05,45),(3.15,52),(3.25,56),(3.35,64),(3.45,70),(3.55,78),(3.65,84),(3.75,88),(3.85,92),(3.92,95),(3.98,98),(4.04,92),(4.1,88),(4.18,78),(4.25,68),(4.32,58),(4.4,45),(4.48,32),(4.56,20),(4.66,10),(4.76,4),(4.88,1),(5.0,0),(5.5,0)],
 "S3": [(1.0,0),(1.6,0),(1.8,1),(2.0,2),(2.15,4),(2.3,7),(2.45,12),(2.6,18),(2.72,22),(2.84,26),(2.96,28),(3.08,32),(3.2,40),(3.32,48),(3.44,58),(3.56,68),(3.68,78),(3.78,86),(3.88,92),(3.96,96),(4.03,99),(4.1,94),(4.18,82),(4.26,68),(4.34,52),(4.42,36),(4.5,24),(4.6,14),(4.7,6),(4.82,2),(4.95,0),(5.5,0)],
 "γS1": [(1.0,0),(2.0,0),(2.2,1),(2.4,2),(2.55,4),(2.7,6),(2.85,8),(3.0,7),(3.12,6),(3.24,10),(3.36,16),(3.48,24),(3.6,34),(3.7,44),(3.8,56),(3.9,66),(3.98,76),(4.06,88),(4.12,95),(4.18,98),(4.24,88),(4.3,90),(4.36,98),(4.42,85),(4.48,80),(4.55,88),(4.62,92),(4.7,90),(4.76,96),(4.8,98),(4.86,90),(4.92,78),(5.0,62),(5.08,45),(5.16,32),(5.24,22),(5.32,14),(5.4,8),(5.5,3)],
 "γS1S3": [(1.0,0),(2.0,0),(2.2,1),(2.4,3),(2.55,6),(2.7,9),(2.82,12),(2.94,10),(3.06,12),(3.18,14),(3.3,18),(3.42,25),(3.54,32),(3.64,40),(3.74,50),(3.84,60),(3.94,70),(4.02,78),(4.1,85),(4.17,90),(4.24,82),(4.3,88),(4.36,96),(4.42,88),(4.48,82),(4.55,90),(4.62,88),(4.7,95),(4.76,92),(4.82,98),(4.88,88),(4.94,75),(5.02,58),(5.1,42),(5.18,30),(5.26,20),(5.34,12),(5.42,6),(5.5,2)],
}
B2_CD62L = {
 "Isotype Control": [(1.0,50),(1.02,5),(1.08,10),(1.14,9),(1.2,10),(1.28,8),(1.36,9),(1.44,11),(1.52,12),(1.6,15),(1.68,20),(1.76,26),(1.84,34),(1.9,30),(1.96,38),(2.04,45),(2.12,55),(2.2,65),(2.28,75),(2.36,85),(2.42,92),(2.48,98),(2.54,92),(2.6,85),(2.66,75),(2.72,60),(2.8,45),(2.88,30),(2.96,20),(3.05,12),(3.15,7),(3.28,3),(3.45,1),(3.7,0),(5.5,0)],
 "TAM-": [(1.0,0),(1.6,0),(1.8,2),(1.95,5),(2.1,10),(2.22,18),(2.34,30),(2.44,45),(2.52,60),(2.6,72),(2.68,82),(2.76,86),(2.84,84),(2.92,88),(3.0,86),(3.08,90),(3.16,85),(3.24,88),(3.32,86),(3.4,90),(3.48,84),(3.56,88),(3.64,82),(3.72,80),(3.8,70),(3.88,58),(3.95,45),(4.02,32),(4.1,20),(4.18,10),(4.28,4),(4.4,1),(4.5,0),(5.5,0)],
 "S3": [(1.0,0),(1.7,0),(1.85,2),(2.0,4),(2.14,8),(2.26,15),(2.38,28),(2.48,45),(2.56,62),(2.64,78),(2.72,90),(2.78,98),(2.84,92),(2.9,96),(2.98,90),(3.06,98),(3.14,88),(3.22,95),(3.3,88),(3.38,92),(3.46,86),(3.54,90),(3.62,82),(3.7,78),(3.78,72),(3.86,60),(3.94,48),(4.02,35),(4.1,22),(4.18,12),(4.28,5),(4.4,1),(4.52,0),(5.5,0)],
 "γS1": [(1.0,0),(1.5,1),(1.7,2),(1.85,6),(1.98,12),(2.1,22),(2.2,34),(2.3,50),(2.38,68),(2.45,85),(2.5,95),(2.55,100),(2.6,92),(2.66,80),(2.72,68),(2.8,58),(2.88,50),(2.96,46),(3.04,48),(3.12,42),(3.2,38),(3.28,40),(3.36,32),(3.44,30),(3.52,24),(3.6,26),(3.68,18),(3.76,14),(3.86,10),(3.96,6),(4.08,3),(4.22,1),(4.4,0),(5.5,0)],
 "γS1S3": [(1.0,0),(1.5,1),(1.7,3),(1.85,7),(1.98,14),(2.1,25),(2.2,38),(2.3,55),(2.38,72),(2.45,88),(2.5,96),(2.55,98),(2.6,90),(2.66,76),(2.72,62),(2.8,48),(2.88,40),(2.96,32),(3.04,30),(3.12,25),(3.2,20),(3.28,22),(3.36,16),(3.44,12),(3.52,10),(3.6,8),(3.7,5),(3.8,3),(3.92,1),(4.05,0),(5.5,0)],
}

ACT_LABELS = ["CD25", "CD69", "KLRG1", "PD-1"]
HOME_LABELS_1 = ["CD49d(Integrin α chain)", "CXCR3", "ICAM-1", "CD11a(LFA1-α)"]
HOME_LABELS_2 = ["LPAM-1(Integrin α 4 β 7)", "CD62L", "CD2"]
B_ROW_LABELS = ["CD25", "CD69", "CD44", "CD62L"]
B_COL_TITLES = ["Before Stimulation", "IL-15(72h)", "IL-2+CD3/28(72h)"]

# ---------------- helpers ----------------
FONT = "Liberation Sans"
CSSF = "font-family:'Liberation Sans',Arial,sans-serif;"
X_MINOR = [1.15, 1.25, 1.35, 1.45, 1.65, 1.75, 1.85] + \
          [round(d + math.log10(k), 3) for d in (2, 3, 4) for k in range(2, 10)] + [5.301, 5.477]
ACT_COLOR = "#d386c4"
HOME_COLOR = "#8f7cbb"
LBL = "font-size:15px;color:#111;"


def hist(panel, w, h, bl, br, bt, bb, big=None, ylab_standoff=2):
    p = figure(width=w, height=h, x_range=Range1d(1.0, 5.5), y_range=Range1d(0, 104),
               output_backend="svg", toolbar_location=None, title=None,
               min_border_left=bl, min_border_right=br, min_border_top=bt, min_border_bottom=bb)
    p.xgrid.visible = False
    p.ygrid.visible = False
    p.outline_line_color = "#c4c4c4"
    p.outline_line_width = 1
    for i in [1, 2, 4, 3, 0]:
        pts = panel[SERIES[i]]
        p.line([q[0] for q in pts], [q[1] for q in pts], line_color=COLORS[i],
               line_width=0.9 if i == 0 else 1.0)
    xa = p.xaxis[0]
    ya = p.yaxis[0]
    xa.ticker = FixedTicker(ticks=X_TICKS, minor_ticks=X_MINOR)
    xa.major_label_overrides = {t: l for t, l in zip(X_TICKS, X_TICK_LABELS)}
    ya.ticker = FixedTicker(ticks=Y_TICKS, minor_ticks=list(range(0, 105, 5)))
    for ax in (xa, ya):
        ax.axis_line_color = "black"
        ax.axis_line_width = 1.2
        ax.major_tick_in = 0
        ax.major_tick_out = 3
        ax.minor_tick_in = 0
        ax.minor_tick_out = 2
        ax.major_tick_line_color = "black"
        ax.minor_tick_line_color = "black"
        ax.major_label_text_font = FONT
        ax.major_label_text_font_style = "bold"
        ax.major_label_text_font_size = "7px"
        ax.major_label_standoff = 1
    ya.major_label_text_font_size = "7.5px"
    ya.axis_label = "% of Max"
    ya.axis_label_text_font = FONT
    ya.axis_label_text_font_style = "bold"
    ya.axis_label_text_font_size = "7px"
    ya.axis_label_standoff = ylab_standoff
    if big:
        p.add_layout(Title(text=big, align="center", text_font=FONT, text_font_size="14px",
                           text_font_style="bold", standoff=0), "left")
    return p


def legend_fig(w, h, bl, font_size="11.5px"):
    p = figure(width=w, height=h, x_range=Range1d(0, 1), y_range=Range1d(0, 1),
               output_backend="svg", toolbar_location=None, title=None, x_axis_location=None,
               y_axis_location=None, min_border_left=bl, min_border_top=0,
               min_border_right=0, min_border_bottom=0)
    p.xgrid.visible = False
    p.ygrid.visible = False
    p.outline_line_color = None
    items = []
    for i, s in enumerate(SERIES):
        r = p.line(x=[math.nan, math.nan], y=[math.nan, math.nan], line_color=COLORS[i],
                   line_width=5, line_cap="round")
        items.append(LegendItem(label=s, renderers=[r]))
    lg = Legend(items=items, location="top_left", glyph_width=24, glyph_height=13, label_height=13,
                spacing=1, padding=0, margin=0, label_standoff=7, border_line_color=None,
                background_fill_alpha=0, label_text_font=FONT, label_text_font_style="bold",
                label_text_font_size=font_size, label_text_color="#111111")
    p.add_layout(lg)
    return p


def abs_div(w, h, items, rules=()):
    """Text placed at fixed spots; `rules` are (x, y, width, height, color) frame lines."""
    html = f'<div style="position:relative;width:{w}px;height:{h}px;{CSSF}">'
    for (x, y, rw, rh, c) in rules:
        html += (f'<div style="position:absolute;left:{x}px;top:{y}px;width:{rw}px;'
                 f'height:{rh}px;background:{c};"></div>')
    for (x, y, txt, css, anchor) in items:
        tx = "-50%" if anchor == "c" else "0"
        html += (f'<span style="position:absolute;left:{x}px;top:{y}px;'
                 f'transform:translate({tx},-50%);white-space:nowrap;line-height:1;{css}">{txt}</span>')
    html += '</div>'
    return Div(text=html, width=w, height=h, margin=(0, 0, 0, 0))


def vbar(h, c, w=2):
    p = figure(width=w, height=h, x_range=Range1d(0, 1), y_range=Range1d(0, 1),
               output_backend="svg", toolbar_location=None, title=None, x_axis_location=None,
               y_axis_location=None, min_border=0)
    p.xgrid.visible = False
    p.ygrid.visible = False
    p.outline_line_color = None
    p.background_fill_color = c
    p.border_fill_color = c
    return p


def sp(w, h):
    return Spacer(width=w, height=h, margin=(0, 0, 0, 0))


# ---------------- section A ----------------
header_A = abs_div(720, 27, [
    (12, 14, "A", "font-size:25px;color:#111;", "c"),
    (37, 16, "Activation Markers", "font-size:14.5px;font-weight:bold;color:#b0569f;", "l"),
], rules=[(34, 25, 643, 2, ACT_COLOR)])
act_geo = [(159, 34, 9), (159, 34, 9), (158, 33, 9), (163, 34, 13)]
act_panels = [A_CD25, A_CD69, A_KLRG1, A_PD1]
act_figs = [hist(pn, w, 143, bl, br, 14, 15) for pn, (w, bl, br) in zip(act_panels, act_geo)]
act_lbl = abs_div(639, 19, [(x, 10, t, LBL, "c") for x, t in zip([89.5, 250.5, 403.5, 572.5], ACT_LABELS)],
                  rules=[(0, 17, 639, 2, ACT_COLOR)])
act_box = row(vbar(162, ACT_COLOR), column(row(*act_figs), act_lbl), vbar(162, ACT_COLOR))

header_H = abs_div(720, 29, [
    (43, 18, "Homing Markers", "font-size:14.5px;font-weight:bold;color:#7d52a3;", "l"),
], rules=[(37, 27, 640, 2, HOME_COLOR)])
h_geo = [(158, 33, 9), (157, 33, 8), (159, 33, 10), (162, 34, 12)]
h1_panels = [A_CD49d, A_CXCR3, A_ICAM1, A_CD11a]
h1_figs = [hist(pn, w, 140, bl, br, 9, 16) for pn, (w, bl, br) in zip(h1_panels, h_geo)]
h1_lbl = abs_div(636, 22, [(x, 11, t, LBL, "c") for x, t in zip([89.5, 241, 400, 580], HOME_LABELS_1)])
h2_panels = [A_LPAM1, A_CD62L, A_CD2]
h2_figs = [hist(pn, w, 154, bl, br, 23, 17) for pn, (w, bl, br) in zip(h2_panels, h_geo[:3])]
h2_figs.append(column(sp(162, 64), legend_fig(162, 90, 34)))
h2_lbl = abs_div(636, 27, [(x, 12, t, LBL, "c") for x, t in zip([98.5, 243, 401], HOME_LABELS_2)],
                 rules=[(0, 25, 636, 2, HOME_COLOR)])
home_box = row(vbar(343, HOME_COLOR), column(row(*h1_figs), h1_lbl, row(*h2_figs), h2_lbl),
               vbar(343, HOME_COLOR))

# ---------------- section B ----------------
header_B = abs_div(720, 87, [
    (12.5, 60, "B", "font-size:26px;color:#111;", "c"),
    (124, 71, B_COL_TITLES[0], "font-size:14.5px;font-weight:bold;color:#111;", "c"),
    (380, 71, B_COL_TITLES[1], "font-size:15.5px;color:#111;", "c"),
    (539, 71, B_COL_TITLES[2], "font-size:15.5px;color:#111;", "c"),
])
col1 = column(*[hist(pn, 190, 142, 60, 10, 8, 14, big=lb, ylab_standoff=-2)
                for pn, lb in zip([B0_CD25, B0_CD69, B0_CD44, B0_CD62L], B_ROW_LABELS)])
arrow_html = (f'<div style="position:relative;width:80px;height:568px;{CSSF}">'
              '<span style="position:absolute;left:40px;top:265px;transform:translate(-50%,-50%);'
              'white-space:nowrap;line-height:1;font-size:14.5px;font-weight:bold;color:#111;">72h culture</span>'
              '<div style="position:absolute;left:8px;top:284px;width:62px;height:3px;background:#111;"></div>'
              '<div style="position:absolute;left:68px;top:280.5px;width:0;height:0;'
              'border-top:5px solid transparent;border-bottom:5px solid transparent;border-left:12px solid #111;"></div>'
              '</div>')
arrow_col = Div(text=arrow_html, width=80, height=568, margin=(0, 0, 0, 0))
col2 = column(*[hist(pn, 172, 142, 43, 9, 8, 14, big=lb, ylab_standoff=-2)
                for pn, lb in zip([B1_CD25, B1_CD69, B1_CD44, B1_CD62L], B_ROW_LABELS)])
col3 = column(*[hist(pn, 158, 142, 30, 8, 8, 14, ylab_standoff=-2)
                for pn in [B2_CD25, B2_CD69, B2_CD44, B2_CD62L]])
legB = column(sp(118, 478), legend_fig(118, 90, 4, font_size="11px"))

page = column(
    header_A,
    row(sp(34, 162), act_box),
    header_H,
    row(sp(37, 343), home_box),
    header_B,
    row(sp(8, 568), col1, arrow_col, col2, col3, legB),
)

open("out.html", "w").write(file_html(page, INLINE, title="plot"))
